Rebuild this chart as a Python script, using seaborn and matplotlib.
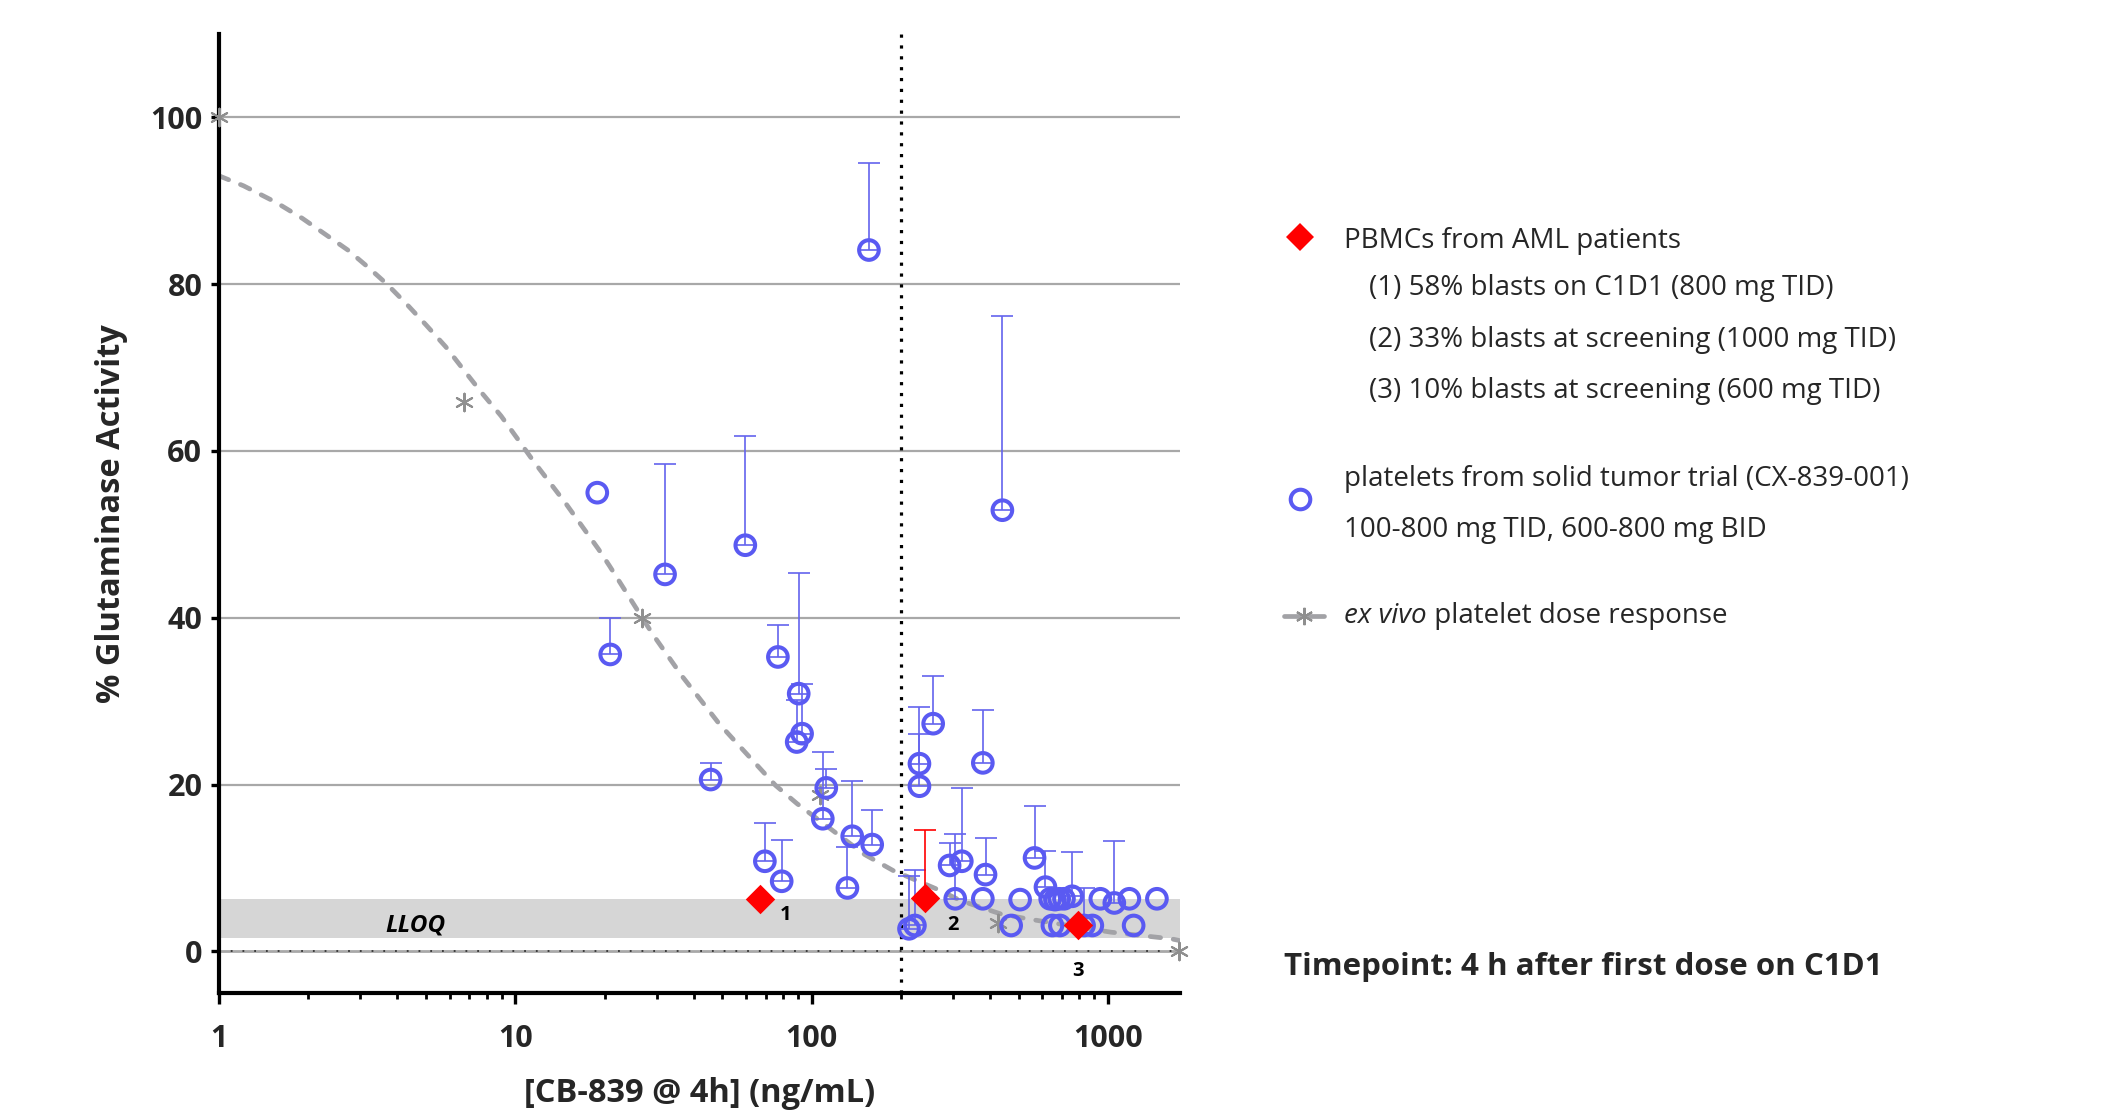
import warnings
warnings.filterwarnings("ignore")
import numpy as np
import pandas as pd
import matplotlib
matplotlib.use("Agg")
import matplotlib.pyplot as plt
import seaborn as sns
from matplotlib.lines import Line2D
from matplotlib.ticker import FixedLocator, NullFormatter

# ---------------- data ----------------
# platelets from solid tumor trial: concentration, % activity, upper error-bar end (nan = none)
plt_x = [18.9, 20.9, 32.0, 45.6, 59.7, 69.5, 76.9, 79.2, 89.0, 90.4, 92.8, 109, 112, 132, 137,
         156, 160, 213, 223, 231, 231, 257, 292, 305, 321, 378, 386, 378, 440, 471, 505, 565,
         615, 638, 649, 662, 684, 688, 710, 757, 830, 885, 942, 1050, 1180, 1220, 1462]
plt_y = [55.0, 35.6, 45.2, 20.6, 48.7, 10.8, 35.3, 8.4, 25.1, 30.9, 26.1, 15.9, 19.6, 7.6, 13.8,
         84.1, 12.8, 2.7, 3.1, 22.5, 19.8, 27.3, 10.3, 6.3, 10.8, 22.6, 9.2, 6.3, 52.9, 3.1, 6.2, 11.2,
         7.7, 6.3, 3.1, 6.2, 6.3, 3.1, 6.3, 6.6, 3.1, 3.1, 6.3, 5.8, 6.3, 3.1, 6.3]
plt_up = [np.nan, 40.0, 58.4, 22.6, 61.8, 15.4, 39.1, 13.3, 30.1, 45.4, 32.1, 23.9, 21.9, 12.5, 20.4,
          94.5, 17.0, 9.0, 9.7, 29.3, 26.1, 33.0, 13.0, 14.1, 19.6, 28.9, 13.6, np.nan, 76.2, np.nan, np.nan, 17.4,
          12.0, np.nan, np.nan, np.nan, np.nan, np.nan, np.nan, 11.9, 7.6, np.nan, np.nan, 13.2, np.nan, np.nan, np.nan]

# PBMCs from AML patients
aml_x = [66.8, 241, 793]
aml_y = [6.3, 6.4, 3.2]
aml_up = [np.nan, 14.5, np.nan]
aml_labels = ["1", "2", "3"]
aml_label_x = [81.4, 300, 793]
aml_label_y = [4.3, 3.2, -2.3]

# ex vivo platelet dose response
exvivo_x = [1, 6.7, 26.8, 107, 425, 1740]
exvivo_y = [100, 65.9, 40.0, 18.7, 3.4, 0]

# dashed dose-response curve
fit_x = [1.0, 1.21, 1.56, 1.91, 2.28, 2.72, 3.17, 3.69, 4.30, 5.0, 5.82, 6.77, 7.69, 8.95, 10.2,
         11.5, 14.8, 19.1, 20.8, 26.8, 29.1, 36.7, 42.3, 48.7, 56.1, 64.7, 75.5, 89.3, 107, 126,
         151, 188, 271, 317, 433, 533, 1021, 1633, 1740]
fit_y = [93.0, 91.8, 89.8, 87.9, 86.0, 84.1, 82.1, 80.0, 77.6, 75.1, 72.5, 69.5, 67.0, 64.2, 61.4,
         58.8, 53.7, 48.2, 46.2, 40.0, 38.0, 32.9, 30.1, 27.3, 24.9, 22.5, 19.9, 17.7, 15.6, 13.7,
         11.6, 9.7, 7.3, 6.1, 4.5, 3.9, 2.3, 1.5, 1.3]

lloq_range = [1.6, 6.3]
cmax_x = 200
y_ticks = [0, 20, 40, 60, 80, 100]
x_ticks = [1, 10, 100, 1000]
x_tick_labels = ["1", "10", "100", "1000"]

# ---------------- styling ----------------
BLUE = "#5a5af2"
BLUE_ERR = "#6464ee"
RED = "#ff0000"
GRAY_STAR = "#8f8f8f"
GRAY_CURVE = "#a2a2a6"
GRID = "#a8a8a8"

sns.set_theme(style="white")
plt.rcParams['font.family'] = ['Open Sans', 'DejaVu Sans']

fig = plt.figure(figsize=(21.08, 11.16), dpi=100)
ax = fig.add_axes([0.1039, 0.1102, 0.4559, 0.8593])

df_plt = pd.DataFrame({"x": plt_x, "y": plt_y, "up": plt_up})
df_aml = pd.DataFrame({"x": aml_x, "y": aml_y, "up": aml_up})
df_ex = pd.DataFrame({"x": exvivo_x, "y": exvivo_y})
df_fit = pd.DataFrame({"x": fit_x, "y": fit_y})

# background elements
ax.axhspan(lloq_range[0], lloq_range[1], color="#d6d6d6", lw=0, zorder=0.5)
for yv in y_ticks[1:]:
    ax.axhline(yv, color=GRID, lw=1.6, zorder=1)
ax.axhline(0, color=GRID, lw=2.0, zorder=1)
ax.axhline(0, color="#333333", lw=1.3, ls=(0, (1, 5.5)), zorder=1.1)
ax.axvline(cmax_x, color="black", lw=2.3, ls=(0, (1, 2.4)), zorder=2)

# dashed fitted curve
sns.lineplot(data=df_fit, x="x", y="y", ax=ax, color=GRAY_CURVE, lw=3.4,
             sort=False, estimator=None, linestyle=(0, (2.2, 2.7)),
             dash_capstyle="round", zorder=2.5)

# ex vivo asterisks
sns.scatterplot(data=df_ex, x="x", y="y", ax=ax, marker=(6, 2, 0), s=160,
                color=GRAY_STAR, linewidth=1.5, zorder=3, clip_on=False)

# error bars (upper only)
e = df_plt.dropna()
ax.errorbar(e["x"], e["y"], yerr=[np.zeros(len(e)), e["up"] - e["y"]], fmt="none",
            ecolor=BLUE_ERR, elinewidth=1.2, capsize=8, capthick=1.2, zorder=3)
ea = df_aml.dropna()
ax.errorbar(ea["x"], ea["y"], yerr=[np.zeros(len(ea)), ea["up"] - ea["y"]], fmt="none",
            ecolor=RED, elinewidth=1.2, capsize=8, capthick=1.2, zorder=3)

# platelet circles
sns.scatterplot(data=df_plt, x="x", y="y", ax=ax, marker="o", s=200,
                facecolor="none", edgecolor=BLUE, linewidth=2.9, zorder=4)

# AML diamonds
sns.scatterplot(data=df_aml, x="x", y="y", ax=ax, marker="D", s=225,
                color=RED, edgecolor=RED, linewidth=0, zorder=5)

for lx, ly, lt in zip(aml_label_x, aml_label_y, aml_labels):
    ax.text(lx, ly, lt, ha="center", va="center", fontsize=14.5, fontweight="bold", color="black")

ax.text(4.6, 3.1, "LLOQ", ha="center", va="center", fontsize=17.5, fontweight="bold",
        fontstyle="italic", color="black", zorder=2)

# axes
ax.set_xscale("log")
ax.set_xlim(1, 1750)
ax.set_ylim(-5, 110)
ax.xaxis.set_major_locator(FixedLocator(x_ticks))
ax.set_xticklabels(x_tick_labels)
minor = [m * 10 ** d for d in range(0, 4) for m in range(2, 10) if m * 10 ** d < 1750]
ax.xaxis.set_minor_locator(FixedLocator(minor))
ax.xaxis.set_minor_formatter(NullFormatter())
ax.set_yticks(y_ticks)
ax.set_yticklabels([str(v) for v in y_ticks])

for side in ["top", "right"]:
    ax.spines[side].set_visible(False)
for side in ["left", "bottom"]:
    ax.spines[side].set_color("black")
    ax.spines[side].set_linewidth(3.0)

ax.tick_params(axis="x", which="major", direction="out", length=8, width=2.4, color="black",
               pad=14, labelsize=22, bottom=True)
ax.tick_params(axis="x", which="minor", direction="out", length=4.5, width=2.0, color="black",
               bottom=True)
ax.tick_params(axis="y", which="major", direction="out", length=6, width=2.4, color="black",
               pad=6, labelsize=22, left=True)
for lab in ax.get_xticklabels() + ax.get_yticklabels():
    lab.set_fontweight("bold")

ax.set_xlabel("[CB-839 @ 4h] (ng/mL)", fontsize=23.5, fontweight="bold", labelpad=17)
ax.set_ylabel("% Glutaminase Activity", fontsize=23.5, fontweight="bold", labelpad=16)
ax.grid(False)

# ---------------- manual legend ----------------
fig.add_artist(Line2D([0.6167], [0.7876], transform=fig.transFigure, marker="D",
                      markersize=14.5, color=RED, markeredgewidth=0, linestyle="none"))
fs = 20
fig.text(0.6376, 0.784, "PBMCs from AML patients", fontsize=fs, va="center", ha="left")
fig.text(0.6494, 0.742, "(1) 58% blasts on C1D1 (800 mg TID)", fontsize=fs, va="center", ha="left")
fig.text(0.6494, 0.6953, "(2) 33% blasts at screening (1000 mg TID)", fontsize=fs, va="center", ha="left")
fig.text(0.6494, 0.6496, "(3) 10% blasts at screening (600 mg TID)", fontsize=fs, va="center", ha="left")

fig.add_artist(Line2D([0.6167], [0.5529], transform=fig.transFigure, marker="o",
                      markersize=14.1, markerfacecolor="none", markeredgecolor=BLUE,
                      markeredgewidth=2.9, linestyle="none"))
fig.text(0.6376, 0.5708, "platelets from solid tumor trial (CX-839-001)", fontsize=fs, va="center", ha="left")
fig.text(0.6376, 0.5251, "100-800 mg TID, 600-800 mg BID", fontsize=fs, va="center", ha="left")

fig.add_artist(Line2D([0.6091, 0.6281], [0.448, 0.448], transform=fig.transFigure,
                      color=GRAY_CURVE, lw=3.4))
fig.add_artist(Line2D([0.6186], [0.448], transform=fig.transFigure, marker=(6, 2, 0),
                      markersize=12.5, color=GRAY_STAR, markeredgewidth=1.5, linestyle="none"))
t1 = fig.text(0.6376, 0.448, "ex vivo", fontsize=fs, va="center", ha="left", fontstyle="italic")
fig.canvas.draw()
bb = t1.get_window_extent(renderer=fig.canvas.get_renderer())
x_end = bb.x1 / fig.bbox.width
fig.text(x_end, 0.448, " platelet dose response", fontsize=fs, va="center", ha="left")

fig.text(0.6091, 0.1335, "Timepoint: 4 h after first dose on C1D1", fontsize=22.5,
         fontweight="bold", va="center", ha="left")

fig.savefig("out.png", dpi=100)
